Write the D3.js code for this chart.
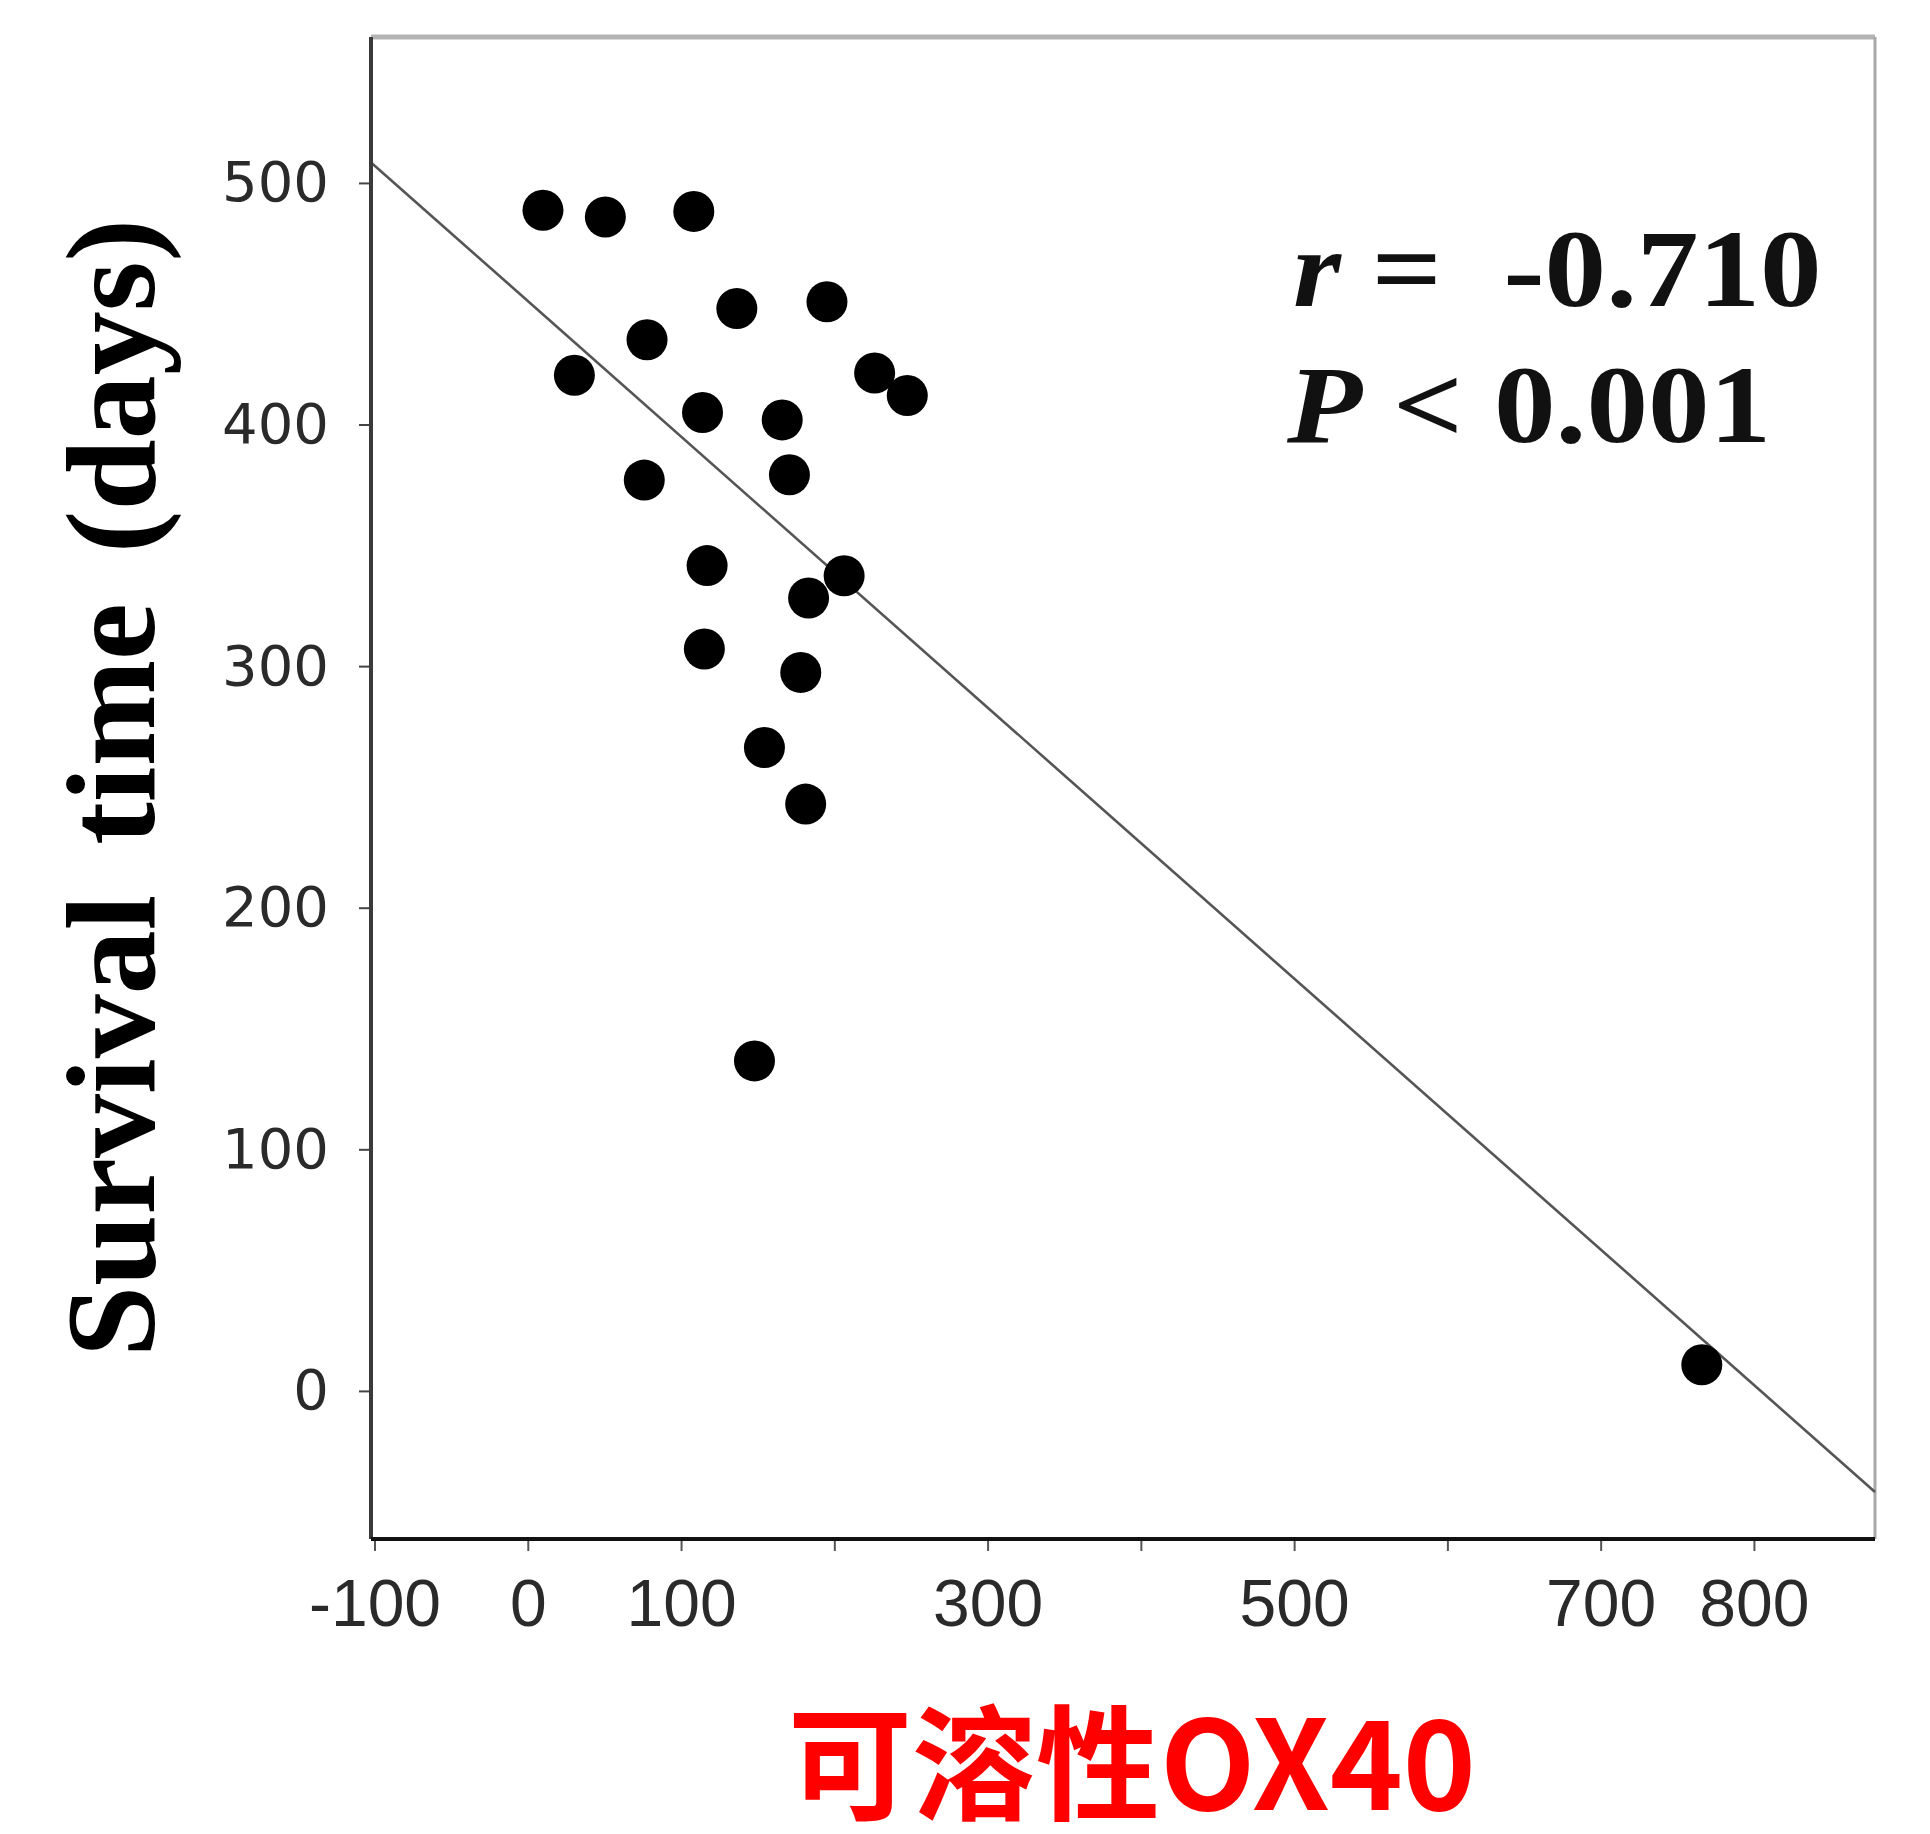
<!DOCTYPE html>
<html>
<head>
<meta charset="utf-8">
<script src="https://cdn.jsdelivr.net/npm/d3@7"></script>
<style>
  html, body { margin: 0; padding: 0; background: #ffffff; }
  svg { display: block; }
</style>
</head>
<body>
<svg id="chart" width="1930" height="1834"></svg>
<script>
// ---- data ----
const solubleOX40 = [9.9, 50.6, 108.3, 136.4, 195.2, 77.8, 30.4, 226.3, 247.6, 114.0, 166.0,
                     76.0, 170.7, 117.0, 206.4, 183.2, 115.2, 178.1, 154.4, 181.3, 147.9, 766.0];
const survivalDays = [488.7, 485.9, 488.2, 448.0, 450.8, 435.1, 420.4, 421.3, 412.0, 405.0, 401.9,
                      377.0, 379.2, 341.6, 337.4, 328.2, 307.1, 297.4, 266.3, 242.9, 136.6, 10.8];
const xTickValues = [-100, 0, 100, 200, 300, 400, 500, 600, 700, 800];
const xTickLabels = ["-100", "0", "100", "", "300", "", "500", "", "700", "800"];
const yTickValues = [0, 100, 200, 300, 400, 500];
const xExtent = [-102.3, 879];
const yExtent = [-61.3, 560.4];
const fitIntercept = 451.1;
const fitSlope = -0.5608;
const statR = "-0.710";
const statP = "0.001";
const yTitle = "Survival time (days)";
const xTitle = "可溶性OX40";

// ---- layout ----
const svg = d3.select("#chart");
const x = d3.scaleLinear().domain(xExtent).range([371, 1875]);
const y = d3.scaleLinear().domain(yExtent).range([1539, 37]);

// frame (top and right, gray)
svg.append("line").attr("x1", x(xExtent[0])).attr("x2", x(xExtent[1]))
  .attr("y1", y(yExtent[1])).attr("y2", y(yExtent[1]))
  .attr("stroke", "#b4b4b4").attr("stroke-width", 5);
svg.append("line").attr("x1", x(xExtent[1])).attr("x2", x(xExtent[1]))
  .attr("y1", y(yExtent[1])).attr("y2", y(yExtent[0]))
  .attr("stroke", "#a8a8a8").attr("stroke-width", 3);

// regression line
svg.append("line")
  .attr("x1", x(xExtent[0])).attr("y1", y(fitIntercept + fitSlope * xExtent[0]))
  .attr("x2", x(xExtent[1])).attr("y2", y(fitIntercept + fitSlope * xExtent[1]))
  .attr("stroke", "#555").attr("stroke-width", 2.6);

// y axis
const yAxis = svg.append("g").attr("transform", `translate(${x(xExtent[0])},0)`)
  .call(d3.axisLeft(y).tickValues(yTickValues).tickSize(12).tickPadding(30).tickFormat(d3.format("d")));
yAxis.select(".domain").remove();
yAxis.append("line").attr("x1", 0).attr("x2", 0).attr("y1", y(yExtent[1])).attr("y2", y(yExtent[0]))
  .attr("stroke", "#3a3a3a").attr("stroke-width", 4);
yAxis.selectAll(".tick line").attr("stroke", "#444").attr("stroke-width", 2);
yAxis.selectAll(".tick text")
  .attr("font-family", "DejaVu Sans").attr("font-size", 56).attr("fill", "#2a2a2a");

// x axis
const xAxis = svg.append("g").attr("transform", `translate(0,${y(yExtent[0])})`)
  .call(d3.axisBottom(x).tickValues(xTickValues).tickSize(12).tickPadding(28)
    .tickFormat((d, i) => xTickLabels[i]));
xAxis.select(".domain").remove();
xAxis.append("line").attr("x1", x(xExtent[0])).attr("x2", x(xExtent[1])).attr("y1", 0).attr("y2", 0)
  .attr("stroke", "#111").attr("stroke-width", 4);
xAxis.selectAll(".tick line").attr("stroke", "#555").attr("stroke-width", 2);
xAxis.selectAll(".tick text")
  .attr("font-family", "Liberation Sans").attr("font-size", 66).attr("fill", "#2a2a2a");

// points
svg.append("g").selectAll("circle")
  .data(solubleOX40.map((v, i) => [v, survivalDays[i]]))
  .join("circle")
  .attr("cx", d => x(d[0])).attr("cy", d => y(d[1]))
  .attr("r", 20.5).attr("fill", "#000");

// stats text
const st = svg.append("g").attr("font-family", "Liberation Serif").attr("font-weight", "bold")
  .attr("font-size", 110).attr("fill", "#111");
const t1 = st.append("text").attr("transform", "translate(1293,306) scale(1.12,1)").style("white-space", "pre");
t1.append("tspan").attr("font-style", "italic").text("r");
t1.append("tspan").text(" =  " + statR);
const t2 = st.append("text").attr("transform", "translate(1287,442) scale(1.12,1)").style("white-space", "pre");
t2.append("tspan").attr("font-style", "italic").text("P");
t2.append("tspan").text(" < " + statP);

// y title
svg.append("text")
  .attr("transform", "translate(154,788) rotate(-90)")
  .attr("text-anchor", "middle")
  .attr("font-family", "Liberation Serif").attr("font-weight", "bold")
  .attr("font-size", 128).attr("fill", "#000")
  .attr("word-spacing", 18)
  .text(yTitle);

// x title
svg.append("text")
  .attr("x", 1132).attr("y", 1810)
  .attr("text-anchor", "middle")
  .attr("font-family", "Noto Sans CJK SC").attr("font-weight", "bold")
  .attr("font-size", 124).attr("fill", "#ff0000")
  .text(xTitle);
</script>
</body>
</html>
